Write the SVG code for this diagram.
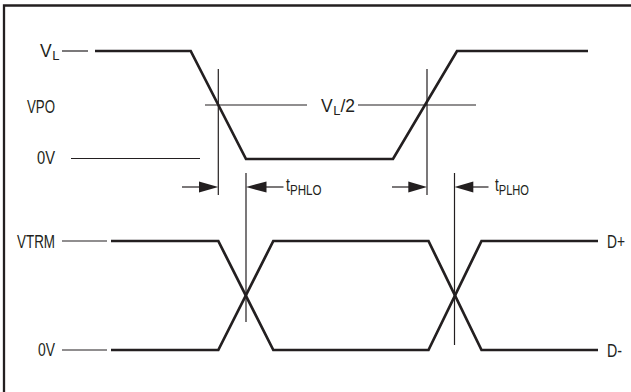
<svg xmlns="http://www.w3.org/2000/svg" width="631" height="392" viewBox="0 0 631 392">
<style>
.thin{fill:none;stroke:#231f20;stroke-width:1.2}
.thick{fill:none;stroke:#231f20;stroke-width:2.7;stroke-linejoin:miter}
.frame{fill:none;stroke:#231f20;stroke-width:2.3}
.head{fill:#231f20}
text{font-family:"Liberation Sans Narrow","Liberation Sans",Arial,sans-serif;font-size:17.5px;fill:#231f20}
.sub{font-size:14.5px}
.subl{font-size:13px}
</style>
<rect width="631" height="392" fill="#ffffff"/>
<path class="frame" d="M4,392 V5.5 H631"/>
<g id="labels">
<text id="lbl-vl" x="40" y="57">V<tspan class="subl" dx="0.5" dy="3">L</tspan></text>
<text id="lbl-vpo" x="27" y="113.3" textLength="28" lengthAdjust="spacingAndGlyphs">VPO</text>
<text id="lbl-0v-top" x="37" y="163.5" textLength="18" lengthAdjust="spacingAndGlyphs">0V</text>
<text id="lbl-vl2" x="321" y="111.5">V<tspan class="subl" dx="0.5" dy="3">L</tspan><tspan dy="-3">/2</tspan></text>
<text id="lbl-tphlo" x="286" y="190.5" textLength="35.5" lengthAdjust="spacingAndGlyphs">t<tspan class="sub" dy="4.5">PHLO</tspan></text>
<text id="lbl-tplho" x="495" y="190.5" textLength="34" lengthAdjust="spacingAndGlyphs">t<tspan class="sub" dy="4.5">PLHO</tspan></text>
<text id="lbl-vtrm" x="17" y="248.3" textLength="38" lengthAdjust="spacingAndGlyphs">VTRM</text>
<text id="lbl-0v-bot" x="38" y="356.3" textLength="17" lengthAdjust="spacingAndGlyphs">0V</text>
<text id="lbl-dp" x="607" y="248.3" textLength="18" lengthAdjust="spacingAndGlyphs">D+</text>
<text id="lbl-dm" x="607" y="356.7" textLength="15" lengthAdjust="spacingAndGlyphs">D-</text>
</g>
<g id="signals">
<path id="sig-top" class="thick" d="M95,51 H190.7 L246,159 H393 L457,51 H588"/>
<path id="sig-dp" class="thick" d="M111,241 H218.3 L273.3,350 H428.5 L481.5,241 H598"/>
<path id="sig-dm" class="thick" d="M111,350 H218.3 L273.3,241 H428.5 L481.5,350 H598"/>
</g>
<g id="connectors">
<line class="thin" x1="62" y1="51" x2="88" y2="51"/>
<line class="thin" x1="205" y1="105" x2="307" y2="105"/>
<line class="thin" x1="358" y1="105" x2="476" y2="105"/>
<line class="thin" x1="71" y1="158.5" x2="200" y2="158.5"/>
<line class="thin" x1="62" y1="241" x2="107" y2="241"/>
<line class="thin" x1="62" y1="350" x2="107" y2="350"/>
<line class="thin" x1="218.3" y1="69" x2="218.3" y2="195"/>
<line class="thin" x1="427" y1="69" x2="427" y2="195"/>
<line class="thin" x1="246" y1="173" x2="246" y2="322"/>
<line class="thin" x1="454.5" y1="173" x2="454.5" y2="345"/>
<line class="thin" x1="182" y1="187" x2="200" y2="187"/>
<polygon class="head" points="218.3,187 199,181.5 199,192.5"/>
<line class="thin" x1="265" y1="187" x2="283.5" y2="187"/>
<polygon class="head" points="246,187 266.5,181.5 266.5,192.5"/>
<line class="thin" x1="392" y1="187" x2="409" y2="187"/>
<polygon class="head" points="427,187 408.3,181.5 408.3,192.5"/>
<line class="thin" x1="472" y1="187" x2="488.5" y2="187"/>
<polygon class="head" points="454.5,187 473.3,181.5 473.3,192.5"/>
</g>
</svg>
